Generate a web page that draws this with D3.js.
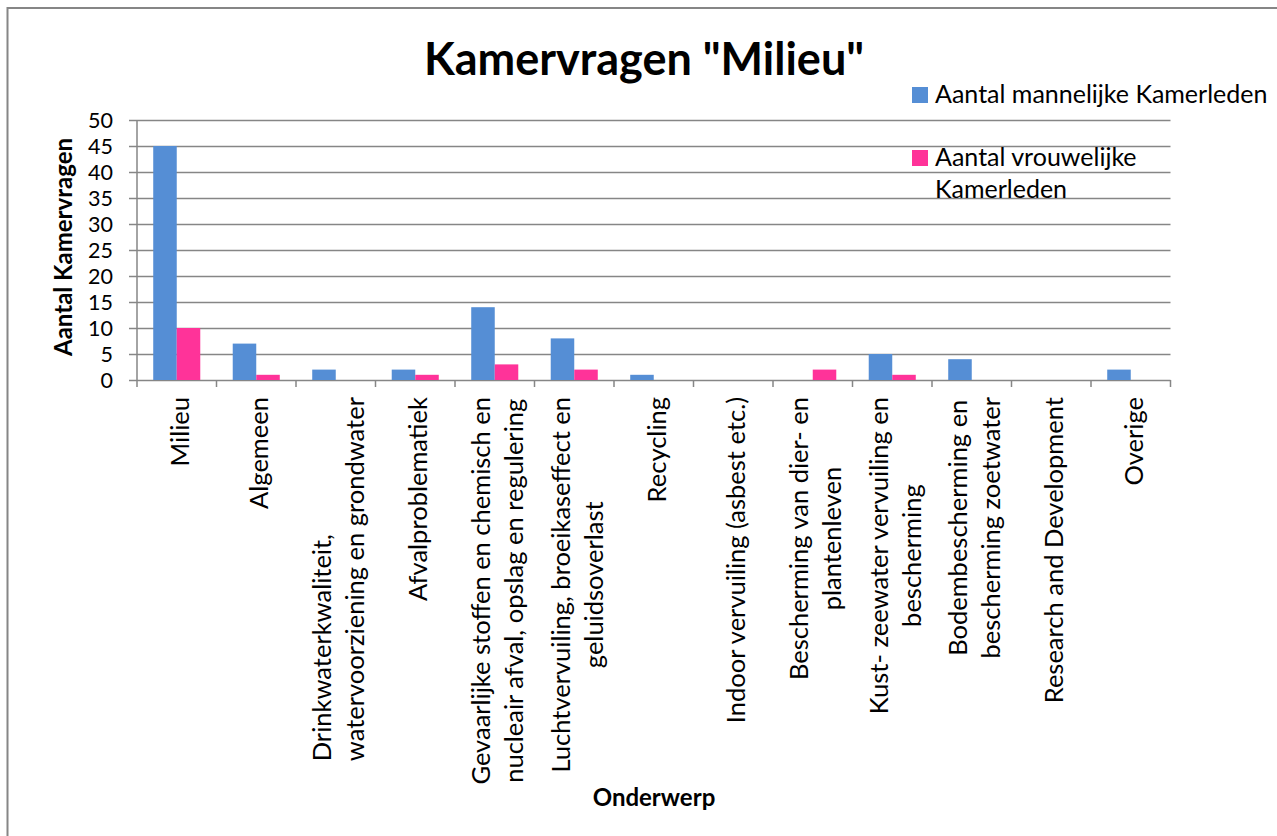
<!DOCTYPE html>
<html>
<head>
<meta charset="utf-8">
<script src="https://cdn.jsdelivr.net/npm/d3@7"></script>
<style>
body { margin: 0; background: #fff; }
svg text { font-family: Lato, "Open Sans", sans-serif; fill: #000; }
</style>
</head>
<body>
<svg id="chart"></svg>
<script>
var width = 1277; // svg size
var height = 836;

// data
var categories = ["Milieu", "Algemeen", "Drinkwater", "Afval", "Gevaarlijk", "Lucht", "Recycling",
	"Indoor", "Dier", "Kust", "Bodem", "Research", "Overige"];
// a trailing no-break space means the line keeps trailing blanks (so it sits at the top, not centred)
var categoryLabels = [
	["Milieu"],
	["Algemeen"],
	["Drinkwaterkwaliteit,\u00a0", "watervoorziening en grondwater"],
	["Afvalproblematiek"],
	["Gevaarlijke stoffen en chemisch en", "nucleair afval, opslag en regulering"],
	["Luchtvervuiling,  broeikaseffect en", "geluidsoverlast"],
	["Recycling"],
	["Indoor vervuiling (asbest etc.)"],
	["Bescherming van dier- en", "plantenleven"],
	["Kust- zeewater vervuiling en", "bescherming"],
	["Bodembescherming en", "bescherming zoetwater"],
	["Research and Development"],
	["Overige"]
];
var mannelijk = [45, 7, 2, 2, 14, 8, 1, 0, 0, 5, 4, 0, 2];
var vrouwelijk = [10, 1, 0, 1, 3, 2, 0, 0, 2, 1, 0, 0, 0];
var seriesKeys = ["m", "v"];
var legendLines = [["Aantal mannelijke Kamerleden"], ["Aantal vrouwelijke", "Kamerleden"]];
var yTicks = [0, 5, 10, 15, 20, 25, 30, 35, 40, 45, 50];
var colors = ["#558ED5", "#FF3399"];

var gridColor = "#868686";

var svg = d3.select("#chart")
	.attr("width", width)
	.attr("height", height)
	.style("display", "block");

// outer chart border (runs off the picture on right / bottom)
svg.append("rect")
	.attr("x", 7.5).attr("y", 8)
	.attr("width", 1400).attr("height", 1000)
	.attr("fill", "none")
	.attr("stroke", gridColor)
	.attr("stroke-width", 2);

// scales
var xScale = d3.scaleBand()
	.domain(categories)
	.range([137, 1170.5])
	.padding(0);

var xInner = d3.scaleBand()
	.domain(seriesKeys)
	.range([0, xScale.bandwidth()])
	.paddingInner(0)
	.paddingOuter(0.69);

var yScale = d3.scaleLinear()
	.domain([0, 50])
	.range([380, 120]);

// y axis with gridlines
var yAxis = d3.axisLeft(yScale)
	.tickValues(yTicks)
	.tickSizeInner(-(xScale.range()[1] - xScale.range()[0]))
	.tickSizeOuter(0)
	.tickPadding(24);

var yg = svg.append("g")
	.attr("transform", "translate(137,0)")
	.call(yAxis);
yg.select(".domain").remove();
yg.selectAll(".tick line")
	.attr("x1", -8)
	.attr("stroke", gridColor)
	.attr("stroke-width", 1.5);
yg.selectAll(".tick text")
	.style("font-size", "21.5px")
	.style("font-family", "Lato, sans-serif")
	.attr("dy", "0.36em");

// vertical axis line
svg.append("line")
	.attr("x1", 137).attr("x2", 137)
	.attr("y1", yScale(50)).attr("y2", yScale(0) + 7)
	.attr("stroke", gridColor)
	.attr("stroke-width", 1.5);

// category boundary ticks
var bounds = categories.map(function (c) { return xScale(c); }).concat([xScale.range()[1]]);
svg.append("g").selectAll("line")
	.data(bounds.slice(1))
	.join("line")
	.attr("x1", function (d) { return d; })
	.attr("x2", function (d) { return d; })
	.attr("y1", yScale(0))
	.attr("y2", yScale(0) + 7)
	.attr("stroke", gridColor)
	.attr("stroke-width", 1.5);

// bars
var groups = svg.append("g").selectAll("g")
	.data(categories)
	.join("g")
	.attr("transform", function (d) { return "translate(" + xScale(d) + ",0)"; });

groups.selectAll("rect")
	.data(function (d, i) { return [{ k: "m", v: mannelijk[i] }, { k: "v", v: vrouwelijk[i] }]; })
	.join("rect")
	.attr("x", function (d) { return xInner(d.k); })
	.attr("width", xInner.bandwidth())
	.attr("y", function (d) { return yScale(d.v); })
	.attr("height", function (d) { return yScale(0) - yScale(d.v); })
	.attr("fill", function (d, j) { return colors[j]; });

// category labels, rotated, lines centred in the block
var labelTop = 397;
var lineGap = 33;
var lg = svg.append("g").selectAll("g")
	.data(categoryLabels)
	.join("g");

lg.each(function (lines, i) {
	var cx = xScale(categories[i]) + xScale.bandwidth() / 2;
	var t = d3.select(this).selectAll("text")
		.data(lines)
		.join("text")
		.attr("text-anchor", "middle")
		.style("font-size", "25.5px")
		.text(function (d) { return d; });
	var maxW = d3.max(t.nodes(), function (n) { return n.getComputedTextLength(); });
	// lines with trailing blanks: fill them out to the block width
	t.each(function (d) {
		if (d.slice(-1) !== "\u00a0") return;
		var s = d;
		while (this.getComputedTextLength() < maxW - 3) {
			s += "\u00a0";
			d3.select(this).text(s);
		}
	});
	maxW = d3.max(t.nodes(), function (n) { return n.getComputedTextLength(); });
	t.attr("transform", function (d, j) {
		var bx = cx + 12 + (j - (lines.length - 1) / 2) * lineGap;
		return "translate(" + bx + "," + (labelTop + maxW / 2) + ") rotate(-90)";
	});
});

// title
svg.append("text")
	.attr("x", 644)
	.attr("y", 75)
	.attr("text-anchor", "middle")
	.style("font-size", "45px")
	.style("font-weight", "bold")
	.text("Kamervragen \"Milieu\"");

// axis titles
svg.append("text")
	.attr("transform", "translate(72,247) rotate(-90)")
	.attr("text-anchor", "middle")
	.style("font-size", "24px")
	.style("font-weight", "bold")
	.text("Aantal Kamervragen");

svg.append("text")
	.attr("x", 654)
	.attr("y", 806)
	.attr("text-anchor", "middle")
	.style("font-size", "24px")
	.style("font-weight", "bold")
	.text("Onderwerp");

// legend (no background, gridlines run underneath)
var legendY = [87, 150];
var legend = svg.append("g").selectAll("g")
	.data(legendLines)
	.join("g")
	.attr("transform", function (d, i) { return "translate(912," + legendY[i] + ")"; });

legend.append("rect")
	.attr("width", 16)
	.attr("height", 16)
	.attr("fill", function (d, i) { return colors[i]; });

legend.selectAll("text")
	.data(function (d) { return d; })
	.join("text")
	.attr("x", 23)
	.attr("y", function (d, j) { return 16 + j * 32; })
	.style("font-size", "25px")
	.text(function (d) { return d; });
</script>
</body>
</html>
